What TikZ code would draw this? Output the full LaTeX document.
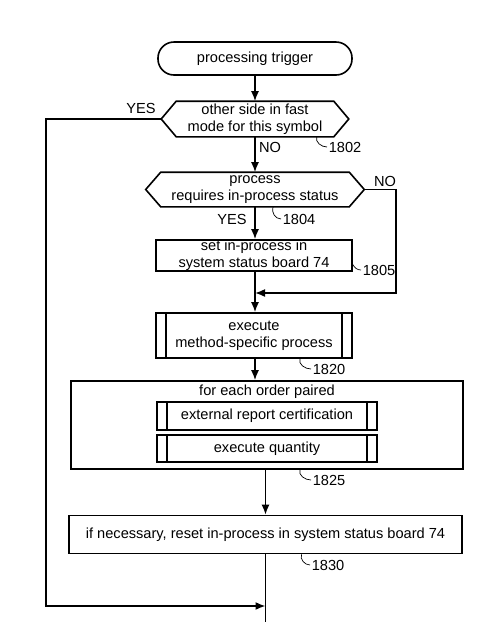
\documentclass[tikz,border=0pt]{standalone}
\usepackage{fontspec}
\setmainfont{Liberation Sans}
\usetikzlibrary{arrows.meta}

\begin{document}
\begin{tikzpicture}[> = {Latex[length = 10pt, width = 8pt]}, x = 1pt, y = -1pt, line width = 1.6pt,
	every node/.style = {font = \fontsize{14.6}{17}\selectfont},
	block/.style = {draw, rectangle, align = center, inner sep = 0pt},
	terminal/.style = {block, rounded corners = 16pt},
	decision/.style = {align = center, inner sep = 0pt},
	refnum/.style = {anchor = west, inner sep = 1pt},
	leader/.style = {line width = 0.7pt}]

	% Definitions

	\def\tip{15}		% Depth of the hexagon points
	\def\inset{11}		% Inset of the side bars

	\useasboundingbox (0, 0) rectangle (500, 622);

	% Start

	\node [terminal, minimum width = 194pt, minimum height = 33pt] (trigger) at (255, 58.5) {processing trigger};

	% Decision 1802

	\node [decision, minimum width = 156pt, minimum height = 34pt] (fast) at (255, 119) {other side in fast\\mode for this symbol};
	\coordinate (fastW) at ([xshift = -\tip pt]fast.west);
	\coordinate (fastE) at ([xshift = \tip pt]fast.east);
	\draw (fast.north west) -- (fast.north east) -- (fastE) -- (fast.south east) -- (fast.south west) -- (fastW) -- cycle;

	\node (yesA) at (141, 108) {YES};
	\node (noA) at (270, 147) {NO};
	\node [refnum] (n1802) at (327, 147) {1802};
	\draw [leader] ([xshift = -17pt]fast.south east) to [out = -110, in = 180] (n1802.west);

	% Decision 1804

	\node [decision, minimum width = 187pt, minimum height = 33pt] (needs) at (255, 189.5) {process\\requires in-process status};
	\coordinate (needsW) at ([xshift = -\tip pt]needs.west);
	\coordinate (needsE) at ([xshift = \tip pt]needs.east);
	\draw (needs.north west) -- (needs.north east) -- (needsE) -- (needs.south east) -- (needs.south west) -- (needsW) -- cycle;

	\node (noB) at (385, 181) {NO};
	\node (yesB) at (232, 219) {YES};
	\node [refnum] (n1804) at (281, 219) {1804};
	\draw [leader] ([xshift = 18pt]needs.south) to [out = -110, in = 180] (n1804.west);

	% Set flag 1805

	\node [block, minimum width = 196pt, minimum height = 31pt] (setflag) at (254, 255.5) {set in-process in\\system status board 74};
	\node [refnum] (n1805) at (361, 270) {1805};
	\draw [leader] ([yshift = -9pt]setflag.east) to [out = -60, in = 180] (n1805.west);

	% Method-specific process 1820

	\node [block, minimum width = 196pt, minimum height = 45pt] (method) at (254, 335.5) {execute\\method-specific process};
	\draw ([xshift = \inset pt]method.north west) -- ([xshift = \inset pt]method.south west);
	\draw ([xshift = -\inset pt]method.north east) -- ([xshift = -\inset pt]method.south east);
	\node [refnum] (n1820) at (311, 369) {1820};
	\draw [leader] ([xshift = 46pt]method.south) to [out = -110, in = 180] (n1820.west);

	% Loop 1825

	\node [block, minimum width = 392pt, minimum height = 88pt] (loop) at (267, 425) {};
	\node (each) at (267, 392) {for each order paired};
	\node [block, minimum width = 220pt, minimum height = 28pt] (certify) at (267, 416) {external report certification};
	\node [block, minimum width = 220pt, minimum height = 27pt] (quantity) at (267, 448.5) {execute quantity};
	\foreach \sub in {certify, quantity} {
		\draw ([xshift = \inset pt]\sub.north west) -- ([xshift = \inset pt]\sub.south west);
		\draw ([xshift = -\inset pt]\sub.north east) -- ([xshift = -\inset pt]\sub.south east);
	}
	\node [refnum] (n1825) at (311, 480) {1825};
	\draw [leader] ([xshift = 33pt]loop.south) to [out = -110, in = 180] (n1825.west);

	% Reset 1830

	\node [block, minimum width = 393pt, minimum height = 38pt] (reset) at (265.5, 534.5) {if necessary, reset in-process in system status board 74};
	\node [refnum] (n1830) at (310, 565) {1830};
	\draw [leader] ([xshift = 36pt]reset.south) to [out = -110, in = 180] (n1830.west);

	% Connectors

	\coordinate (merge) at (255, 293);
	\coordinate (bypass) at (396, 189.5);
	\coordinate (skip) at (46, 119);
	\coordinate (exit) at (265.5, 622);
	\coordinate (join) at (265.5, 606);

	\draw [->] (trigger.south) -- (fast.north);
	\draw [->] (fast.south) -- (needs.north);
	\draw [->] (needs.south) -- (needs.south |- setflag.north);
	\draw (setflag.south -| merge) -- (merge);
	\draw [->] (needsE) -- (bypass) |- (merge);
	\draw [->] (merge) -- (merge |- method.north);
	\draw [->] (method.south -| merge) -- (merge |- loop.north);
	\draw [->] (loop.south -| reset.north) -- (reset.north);
	\draw (reset.south) -- (exit);
	\draw [->] (fastW) -- (skip) |- (join);

\end{tikzpicture}
\end{document}
